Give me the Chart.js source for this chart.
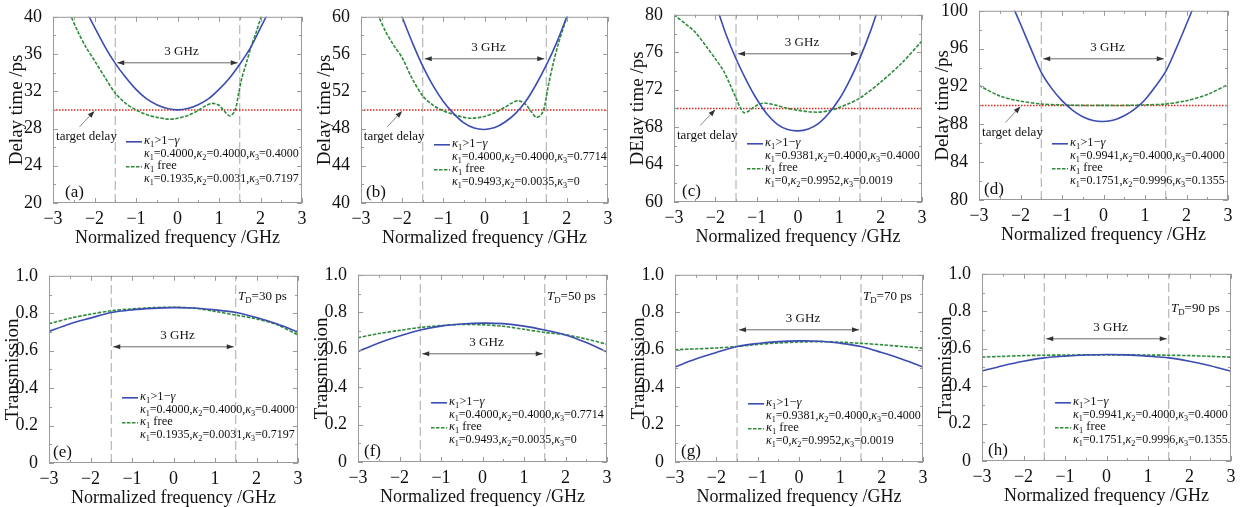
<!DOCTYPE html>
<html lang="en">
<head>
<meta charset="UTF-8">
<title>Delay time and transmission</title>
<script src="https://cdn.jsdelivr.net/npm/chart.js"></script>
<style>
  body { margin: 0; background: #fff; width: 1255px; height: 507px; position: relative; overflow: hidden; }
  canvas { position: absolute; }
</style>
</head>
<body>
<script>
// shared frequency samples (GHz) for the transmission panels
const freqGrid = [-3, -2.5, -2, -1.5, -1, -0.5, 0, 0.5, 1, 1.5, 2, 2.5, 3];
const bandEdges = [-1.5, 1.5];
const targetDelays = [30, 50, 70, 90];

// (a) delay, target 30 ps
const fixedAx = [-2.2, -2, -1.75, -1.5, -1.25, -1, -0.75, -0.5, -0.25, 0, 0.25, 0.5, 0.75, 1, 1.25, 1.5, 1.75, 2, 2.2];
const fixedAy = [40.6, 38.9, 36.8, 35.0, 33.5, 32.2, 31.2, 30.55, 30.15, 30.0, 30.15, 30.55, 31.2, 32.2, 33.4, 34.9, 36.6, 38.8, 40.6];
const freeAx = [-2.6, -2.4, -2.2, -2, -1.75, -1.5, -1.25, -1, -0.75, -0.5, -0.2, 0, 0.25, 0.5, 0.7, 0.86, 1, 1.12, 1.27, 1.39, 1.47, 1.55, 1.67, 1.76, 1.9, 2.03];
const freeAy = [40.4, 38.4, 36.7, 35.3, 33.5, 31.8, 30.7, 30.0, 29.5, 29.2, 29.0, 29.1, 29.4, 29.95, 30.5, 30.7, 30.5, 29.9, 29.35, 30.0, 31.7, 33.4, 35.2, 36.6, 38.4, 40.2];

// (b) delay, target 50 ps
const fixedBx = [-2.05, -1.75, -1.5, -1.25, -1, -0.75, -0.5, -0.25, 0, 0.25, 0.5, 0.75, 1, 1.25, 1.5, 1.75, 2.05];
const fixedBy = [60.5, 57.2, 54.7, 52.6, 50.9, 49.6, 48.6, 48.05, 47.9, 48.1, 48.7, 49.6, 50.9, 52.7, 54.8, 57.2, 60.6];
const freeBx = [-2.6, -2.4, -2.2, -2, -1.75, -1.5, -1.25, -1, -0.75, -0.5, -0.3, 0, 0.25, 0.5, 0.65, 0.82, 1, 1.12, 1.26, 1.38, 1.46, 1.55, 1.67, 1.8, 1.9, 2.03];
const freeBy = [60.3, 58.4, 56.9, 55.6, 53.3, 51.5, 50.5, 49.9, 49.5, 49.2, 49.1, 49.3, 49.7, 50.3, 50.7, 51.0, 50.6, 49.9, 49.2, 49.5, 50.4, 52.6, 55.0, 57.2, 58.6, 60.4];

// (c) delay, target 70 ps
const fixedCx = [-1.95, -1.75, -1.5, -1.25, -1, -0.75, -0.5, -0.25, 0, 0.25, 0.5, 0.75, 1, 1.25, 1.5, 1.75, 1.95];
const fixedCy = [80.6, 78.0, 75.3, 73.0, 71.0, 69.4, 68.3, 67.75, 67.6, 67.8, 68.4, 69.5, 71.0, 73.0, 75.4, 78.2, 80.8];
const freeCx = [-3, -2.5, -2.2, -2, -1.8, -1.65, -1.5, -1.4, -1.31, -1.2, -1.05, -0.9, -0.78, -0.5, -0.25, 0, 0.25, 0.5, 0.75, 1, 1.25, 1.5, 2, 2.5, 3];
const freeCy = [80.0, 78.2, 76.5, 75.3, 74.0, 72.6, 71.1, 70.1, 69.55, 69.7, 70.2, 70.5, 70.55, 70.3, 70.0, 69.8, 69.65, 69.6, 69.75, 70.1, 70.55, 71.1, 72.8, 74.8, 77.2];

// (d) delay, target 90 ps
const fixedDx = [-2.15, -2, -1.75, -1.5, -1.25, -1, -0.75, -0.5, -0.25, 0, 0.25, 0.5, 0.75, 1, 1.25, 1.5, 1.75, 2, 2.15];
const fixedDy = [100.1, 98.6, 96.0, 93.5, 91.8, 90.5, 89.5, 88.8, 88.4, 88.3, 88.45, 88.9, 89.6, 90.6, 92.0, 93.6, 96.0, 98.6, 100.2];
const freeDy = [92.1, 91.0, 90.45, 90.15, 90.05, 90.0, 90.0, 90.0, 90.05, 90.15, 90.5, 91.15, 92.2];

// (e)-(h) transmission on freqGrid
const fixedEy = [0.703, 0.743, 0.774, 0.804, 0.818, 0.826, 0.830, 0.828, 0.818, 0.804, 0.777, 0.742, 0.700];
const freeEy = [0.744, 0.773, 0.795, 0.813, 0.823, 0.830, 0.832, 0.827, 0.810, 0.790, 0.770, 0.738, 0.684];
const fixedFy = [0.590, 0.636, 0.673, 0.705, 0.726, 0.737, 0.742, 0.739, 0.726, 0.705, 0.679, 0.638, 0.588];
const freeFy = [0.664, 0.686, 0.703, 0.719, 0.729, 0.735, 0.733, 0.725, 0.709, 0.692, 0.680, 0.657, 0.629];
const fixedGy = [0.508, 0.550, 0.585, 0.617, 0.633, 0.643, 0.647, 0.645, 0.634, 0.617, 0.585, 0.549, 0.507];
const freeGy = [0.600, 0.604, 0.609, 0.617, 0.628, 0.636, 0.641, 0.643, 0.640, 0.634, 0.626, 0.617, 0.608];
const fixedHy = [0.481, 0.509, 0.533, 0.551, 0.560, 0.566, 0.569, 0.567, 0.560, 0.551, 0.533, 0.509, 0.479];
const freeHy = [0.555, 0.559, 0.563, 0.565, 0.566, 0.567, 0.567, 0.567, 0.566, 0.565, 0.563, 0.559, 0.555];

// legend texts ("_" = subscript next char)
const fixedParams = ['κ_1=0.4000,κ_2=0.4000,κ_3=0.4000', 'κ_1=0.4000,κ_2=0.4000,κ_3=0.7714',
                     'κ_1=0.9381,κ_2=0.4000,κ_3=0.4000', 'κ_1=0.9941,κ_2=0.4000,κ_3=0.4000'];
const freeParams = ['κ_1=0.1935,κ_2=0.0031,κ_3=0.7197', 'κ_1=0.9493,κ_2=0.0035,κ_3=0',
                    'κ_1=0,κ_2=0.9952,κ_3=0.0019', 'κ_1=0.1751,κ_2=0.9996,κ_3=0.1355'];
const delayTitles = ['Delay time /ps', 'Delay time /ps', 'DElay time /ps', 'Delay time /ps'];
const tags = ['(a)', '(b)', '(c)', '(d)', '(e)', '(f)', '(g)', '(h)'];

const SERIF = '"Liberation Serif", "DejaVu Serif", serif';
const BLUE = '#3b4db3';
const GREEN = '#2e8b3a';
Chart.defaults.font.family = SERIF;
Chart.defaults.color = '#111';

// plot box per panel: left, top, width, height (px) and a few annotation offsets
const panels = [
  { box: [53, 15, 249, 188], yMin: 20, yMax: 40, yStep: 4, fixed: [fixedAx, fixedAy], free: [freeAx, freeAy], arrowDy: 46, legDy: 125, tagDx: 12 },
  { box: [361, 15, 247, 188], yMin: 40, yMax: 60, yStep: 4, fixed: [fixedBx, fixedBy], free: [freeBx, freeBy], arrowDy: 42, legDy: 128, tagDx: 5 },
  { box: [674, 13, 248, 189], yMin: 60, yMax: 80, yStep: 4, fixed: [fixedCx, fixedCy], free: [freeCx, freeCy], arrowDy: 39, legDy: 129, tagDx: 8 },
  { box: [979, 9, 249, 191], yMin: 80, yMax: 100, yStep: 4, fixed: [fixedDx, fixedDy], free: [freqGrid, freeDy], arrowDy: 48, legDy: 133, tagDx: 5 },
  { box: [49, 274, 249, 189], yMin: 0, yMax: 1, yStep: 0.2, fixed: [freqGrid, fixedEy], free: [freqGrid, freeEy], arrowDy: 71, legDy: 122, tagDx: 4, tdDy: 21 },
  { box: [358, 273, 249, 189], yMin: 0, yMax: 1, yStep: 0.2, fixed: [freqGrid, fixedFy], free: [freqGrid, freeFy], arrowDy: 79, legDy: 128, tagDx: 6, tdDy: 22 },
  { box: [675, 273, 248, 189], yMin: 0, yMax: 1, yStep: 0.2, fixed: [freqGrid, fixedGy], free: [freqGrid, freeGy], arrowDy: 55, legDy: 129, tagDx: 6, tdDy: 22 },
  { box: [982, 272, 249, 189], yMin: 0, yMax: 1, yStep: 0.2, fixed: [freqGrid, fixedHy], free: [freqGrid, freeHy], arrowDy: 65, legDy: 129, tagDx: 6, tdDy: 35 }
];

const PAD_L = 53, PAD_T = 12, PAD_R = 12, PAD_B = 46;

function pts(xs, ys) { return xs.map((x, i) => ({ x: x, y: ys[i] })); }

// draws text with subscripts ("_") and italic κ, γ, T
function drawRich(ctx, str, x, y, size) {
  let cx = x;
  for (let i = 0; i < str.length; i++) {
    let ch = str[i], sub = false;
    if (ch === '_') { sub = true; ch = str[++i]; }
    const it = 'κγT'.includes(ch);
    const s = sub ? size * 0.68 : size;
    ctx.font = (it ? 'italic ' : '') + s + 'px ' + SERIF;
    ctx.fillText(ch, cx, sub ? y + size * 0.32 : y);
    cx += ctx.measureText(ch).width;
  }
}

function arrowHead(ctx, x, y, ang) {
  ctx.beginPath();
  ctx.moveTo(x, y);
  ctx.lineTo(x - 7 * Math.cos(ang) + 2.5 * Math.sin(ang), y - 7 * Math.sin(ang) - 2.5 * Math.cos(ang));
  ctx.lineTo(x - 7 * Math.cos(ang) - 2.5 * Math.sin(ang), y - 7 * Math.sin(ang) + 2.5 * Math.cos(ang));
  ctx.closePath();
  ctx.fill();
}

function deco(p, idx) {
  const isDelay = idx < 4;
  return {
    id: 'deco' + idx,
    afterDraw(chart) {
      const { ctx, chartArea: a, scales: { x, y } } = chart;
      ctx.save();
      ctx.strokeStyle = '#9a9a9a';
      ctx.lineWidth = 1;
      ctx.strokeRect(a.left + 0.5, a.top + 0.5, a.width - 1, a.height - 1);
      ctx.beginPath();
      for (let v = -3; v <= 3.001; v += 0.5) {
        const px = Math.round(x.getPixelForValue(v)) + 0.5;
        const len = Math.abs(v % 1) < 0.01 ? 5 : 3;
        ctx.moveTo(px, a.bottom); ctx.lineTo(px, a.bottom - len);
        ctx.moveTo(px, a.top); ctx.lineTo(px, a.top + len);
      }
      for (let v = p.yMin; v <= p.yMax + 1e-6; v += p.yStep / 2) {
        const py = Math.round(y.getPixelForValue(v)) + 0.5;
        const k = Math.round((v - p.yMin) / (p.yStep / 2));
        const len = k % 2 === 0 ? 5 : 3;
        ctx.moveTo(a.left, py); ctx.lineTo(a.left + len, py);
        ctx.moveTo(a.right, py); ctx.lineTo(a.right - len, py);
      }
      ctx.stroke();

      // 3 GHz double arrow
      const ay = a.top + p.arrowDy;
      const x1 = x.getPixelForValue(bandEdges[0]) + 2, x2 = x.getPixelForValue(bandEdges[1]) - 2;
      ctx.strokeStyle = '#444'; ctx.fillStyle = '#333'; ctx.lineWidth = 0.8;
      ctx.beginPath(); ctx.moveTo(x1, ay); ctx.lineTo(x2, ay); ctx.stroke();
      arrowHead(ctx, x1, ay, Math.PI);
      arrowHead(ctx, x2, ay, 0);
      ctx.fillStyle = '#111';
      ctx.textAlign = 'center'; ctx.textBaseline = 'middle';
      ctx.font = '13px ' + SERIF;
      ctx.fillText('3 GHz', (x1 + x2) / 2 + 4, ay - 11);

      // target delay pointer
      if (isDelay) {
        const tx = x.getPixelForValue(-2.0), ty = y.getPixelForValue(targetDelays[idx]);
        ctx.strokeStyle = '#555'; ctx.fillStyle = '#333'; ctx.lineWidth = 0.7;
        ctx.beginPath(); ctx.moveTo(tx - 15, ty + 17); ctx.lineTo(tx - 1, ty + 2); ctx.stroke();
        arrowHead(ctx, tx, ty + 1, Math.atan2(-15, 14));
        ctx.fillStyle = '#111';
        ctx.font = '13px ' + SERIF;
        ctx.fillText('target delay', tx - 8, ty + 27);
      } else {
        ctx.textAlign = 'left';
        const w = 51;
        drawRich(ctx, 'T_D=' + targetDelays[idx - 4] + ' ps', a.right - 9 - w, a.top + p.tdDy, 13);
      }

      // legend
      const lx = a.left + 73, ly = a.top + p.legDy;
      ctx.lineWidth = 1.6;
      ctx.strokeStyle = BLUE; ctx.setLineDash([]);
      ctx.beginPath(); ctx.moveTo(lx, ly); ctx.lineTo(lx + 16, ly); ctx.stroke();
      ctx.strokeStyle = GREEN; ctx.setLineDash([3.5, 1.5]);
      ctx.beginPath(); ctx.moveTo(lx, ly + 25); ctx.lineTo(lx + 16, ly + 25); ctx.stroke();
      ctx.setLineDash([]);
      ctx.fillStyle = '#111'; ctx.textAlign = 'left'; ctx.textBaseline = 'middle';
      drawRich(ctx, 'κ_1>1−γ', lx + 18, ly - 1, 12.5);
      drawRich(ctx, fixedParams[idx % 4], lx + 18, ly + 12, 12);
      drawRich(ctx, 'κ_1 free', lx + 18, ly + 24, 12.5);
      drawRich(ctx, freeParams[idx % 4], lx + 18, ly + 37, 12);

      // panel tag
      ctx.font = '17px ' + SERIF;
      ctx.fillText(tags[idx], a.left + p.tagDx, a.bottom - 10);
      ctx.restore();
    }
  };
}

panels.forEach((p, idx) => {
  const [L, T, W, H] = p.box;
  const cv = document.createElement('canvas');
  cv.width = PAD_L + W + PAD_R;
  cv.height = PAD_T + H + PAD_B;
  cv.style.left = (L - PAD_L) + 'px';
  cv.style.top = (T - PAD_T) + 'px';
  document.body.appendChild(cv);

  const isDelay = idx < 4;
  const datasets = [
    { data: pts(p.fixed[0], p.fixed[1]), borderColor: BLUE, borderWidth: 1.6, tension: 0.3 },
    { data: pts(p.free[0], p.free[1]), borderColor: GREEN, borderWidth: 1.6, borderDash: [3.5, 1.5], tension: 0.3 }
  ];
  if (isDelay) {
    datasets.push({ data: [{ x: -3, y: targetDelays[idx] }, { x: 3, y: targetDelays[idx] }],
      borderColor: '#e3261c', borderWidth: 1.5, borderDash: [1.5, 1.5] });
  }
  bandEdges.forEach(b => {
    datasets.push({ data: [{ x: b, y: p.yMin }, { x: b, y: p.yMax }],
      borderColor: '#a8a8a8', borderWidth: 1, borderDash: [9, 4] });
  });

  new Chart(cv, {
    type: 'line',
    data: { datasets: datasets },
    options: {
      responsive: false,
      animation: false,
      devicePixelRatio: 1,
      layout: { padding: { left: 0, top: PAD_T, right: PAD_R, bottom: 0 } },
      elements: { point: { radius: 0 }, line: { tension: 0 } },
      plugins: { legend: { display: false }, tooltip: { enabled: false } },
      scales: {
        x: {
          type: 'linear', min: -3, max: 3,
          grid: { display: false }, border: { display: false },
          ticks: { stepSize: 1, padding: -3, font: { size: 18 },
            callback: v => v < 0 ? '\u2212' + Math.abs(v) : String(v) },
          title: { display: true, text: 'Normalized frequency /GHz', font: { size: 18 }, padding: { top: 0, bottom: 0 } },
          afterFit: s => { s.height = PAD_B; }
        },
        y: {
          min: p.yMin, max: p.yMax,
          grid: { display: false }, border: { display: false },
          ticks: { stepSize: p.yStep, padding: 3, font: { size: 18 },
            callback: v => isDelay ? String(v) : (Math.abs(v) < 1e-9 ? '0' : v.toFixed(1)) },
          title: { display: true, text: isDelay ? delayTitles[idx] : 'Transmission', font: { size: 19 }, padding: { top: 6, bottom: 0 } },
          afterFit: s => { s.width = PAD_L; }
        }
      }
    },
    plugins: [deco(p, idx)]
  });
});
</script>
</body>
</html>
